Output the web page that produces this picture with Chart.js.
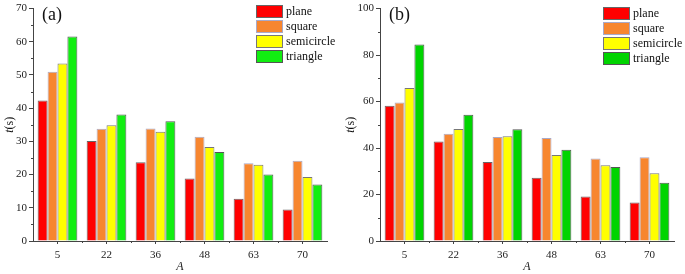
<!DOCTYPE html>
<html>
<head>
<meta charset="utf-8">
<script src="https://cdn.jsdelivr.net/npm/chart.js@4"></script>
<style>
  html, body { margin: 0; padding: 0; background: #fff; }
  #wrap { position: relative; width: 685px; height: 274px; }
  .box { position: absolute; top: 0; height: 274px; }
</style>
</head>
<body>
<div id="wrap">
  <div class="box" style="left:0;width:342px"><canvas id="chart-a"></canvas></div>
  <div class="box" style="left:342px;width:343px"><canvas id="chart-b"></canvas></div>
</div>
<script>
// Valores (tempo t em segundos para cada A)
const categorias = ['5', '22', '36', '48', '63', '70'];
const nomesSeries = ['plane', 'square', 'semicircle', 'triangle'];

const planeA = [42.3, 30.1, 23.7, 18.8, 12.7, 9.5];
const squareA = [51.0, 33.8, 33.9, 31.4, 23.4, 24.2];
const semiA = [53.5, 34.9, 32.9, 28.3, 23.0, 19.3];
const triA = [61.6, 38.1, 36.1, 26.8, 20.0, 17.0];

const planeB = [58.2, 42.8, 34.0, 27.2, 19.1, 16.6];
const squareB = [59.6, 46.2, 44.8, 44.3, 35.5, 36.0];
const semiB = [65.8, 48.2, 45.1, 37.0, 32.6, 29.1];
const triB = [84.5, 54.3, 48.1, 39.3, 31.8, 25.1];

const FONTE = '"Liberation Serif", "Times New Roman", serif';
const COR_EIXO = '#444';

// Desenha ticks menores, legenda, letra do painel e título do eixo y
const extrasPlugin = {
    id: 'extras',
    afterDraw(chart) {
        const cfg = chart.options.plugins.extras;
        const ctx = chart.ctx;
        const ys = chart.scales.y;
        const xs = chart.scales.x;
        const area = chart.chartArea;

        ctx.save();
        ctx.strokeStyle = COR_EIXO;
        ctx.lineWidth = 1;

        // ticks menores do eixo y
        for (let v = ys.min + cfg.passoMenor; v < ys.max; v += cfg.passoMenor * 2) {
            const py = Math.round(ys.getPixelForValue(v)) + 0.5;
            ctx.beginPath();
            ctx.moveTo(area.left - 2, py);
            ctx.lineTo(area.left, py);
            ctx.stroke();
        }

        // ticks menores do eixo x (entre categorias)
        const meio = (xs.getPixelForValue(1) - xs.getPixelForValue(0)) / 2;
        for (let i = 1; i < categorias.length; i++) {
            const px = Math.round(xs.getPixelForValue(i) - meio) + 0.5;
            ctx.beginPath();
            ctx.moveTo(px, area.bottom);
            ctx.lineTo(px, area.bottom + 2);
            ctx.stroke();
        }

        // letra do painel
        ctx.fillStyle = '#111';
        ctx.font = '18px ' + FONTE;
        ctx.textBaseline = 'middle';
        ctx.textAlign = 'left';
        ctx.fillText(cfg.letra, area.left + 9, 15);

        // título do eixo y: t itálico + (s)
        ctx.save();
        ctx.translate(cfg.tituloX, (area.top + area.bottom) / 2);
        ctx.rotate(-Math.PI / 2);
        ctx.font = 'italic 12px ' + FONTE;
        const w1 = ctx.measureText('t').width;
        ctx.font = '12px ' + FONTE;
        const w2 = ctx.measureText('(s)').width;
        let x0 = -(w1 + w2) / 2;
        ctx.font = 'italic 12px ' + FONTE;
        ctx.fillText('t', x0, 0);
        ctx.font = '12px ' + FONTE;
        ctx.fillText('(s)', x0 + w1, 0);
        ctx.restore();

        // legenda
        chart.data.datasets.forEach((ds, i) => {
            const y = cfg.legendaY + i * 15;
            ctx.fillStyle = ds.backgroundColor;
            ctx.fillRect(cfg.legendaX, y, 27, 13);
            ctx.strokeStyle = ds.borderColor;
            ctx.strokeRect(cfg.legendaX + 0.5, y + 0.5, 26, 12);
            ctx.fillStyle = '#111';
            ctx.font = '12px ' + FONTE;
            ctx.fillText(ds.label, cfg.legendaX + 30, y + 7);
        });
        ctx.restore();
    }
};

function desenharGrafico(id, series, verde, maxY, passo, extras, larguraY, padDireita) {
    const cores = ['#ff0000', '#f7862f', '#ffff00', verde];
    const bordas = ['#666', '#a9a9c8', '#777', '#555'];

    const datasets = series.map((valores, i) => ({
        label: nomesSeries[i],
        data: valores,
        backgroundColor: cores[i],
        borderColor: bordas[i],
        borderWidth: 1,
        categoryPercentage: 0.81,
        barPercentage: 1
    }));

    return new Chart(document.getElementById(id), {
        type: 'bar',
        data: { labels: categorias, datasets: datasets },
        options: {
            responsive: true,
            maintainAspectRatio: false,
            animation: false,
            layout: { padding: { top: 3, right: padDireita, left: 0, bottom: 0 } },
            plugins: {
                legend: { display: false },
                tooltip: { enabled: false },
                extras: extras
            },
            scales: {
                x: {
                    grid: { display: true, drawOnChartArea: false, offset: false, tickLength: 3, color: COR_EIXO },
                    border: { color: COR_EIXO },
                    ticks: { color: '#222', font: { family: FONTE, size: 11 }, padding: 5 },
                    title: { display: true, text: 'A', color: '#222', font: { family: FONTE, size: 12, style: 'italic' }, padding: { top: 0, bottom: 0 } },
                    afterFit: (s) => { s.height = 33; }
                },
                y: {
                    min: 0,
                    max: maxY,
                    grid: { display: true, drawOnChartArea: false, tickLength: 4, color: COR_EIXO },
                    border: { color: COR_EIXO },
                    ticks: { stepSize: passo, color: '#222', font: { family: FONTE, size: 11 }, padding: 2 },
                    afterFit: (s) => { s.width = larguraY; }
                }
            }
        },
        plugins: [extrasPlugin]
    });
}

desenharGrafico('chart-a', [planeA, squareA, semiA, triA], '#11ee11', 70, 10,
    { letra: '(a)', passoMenor: 5, tituloX: 10, legendaX: 256, legendaY: 5 }, 33, 15);

desenharGrafico('chart-b', [planeB, squareB, semiB, triB], '#00d400', 100, 20,
    { letra: '(b)', passoMenor: 10, tituloX: 9, legendaX: 261, legendaY: 7 }, 38, 11);
</script>
</body>
</html>
